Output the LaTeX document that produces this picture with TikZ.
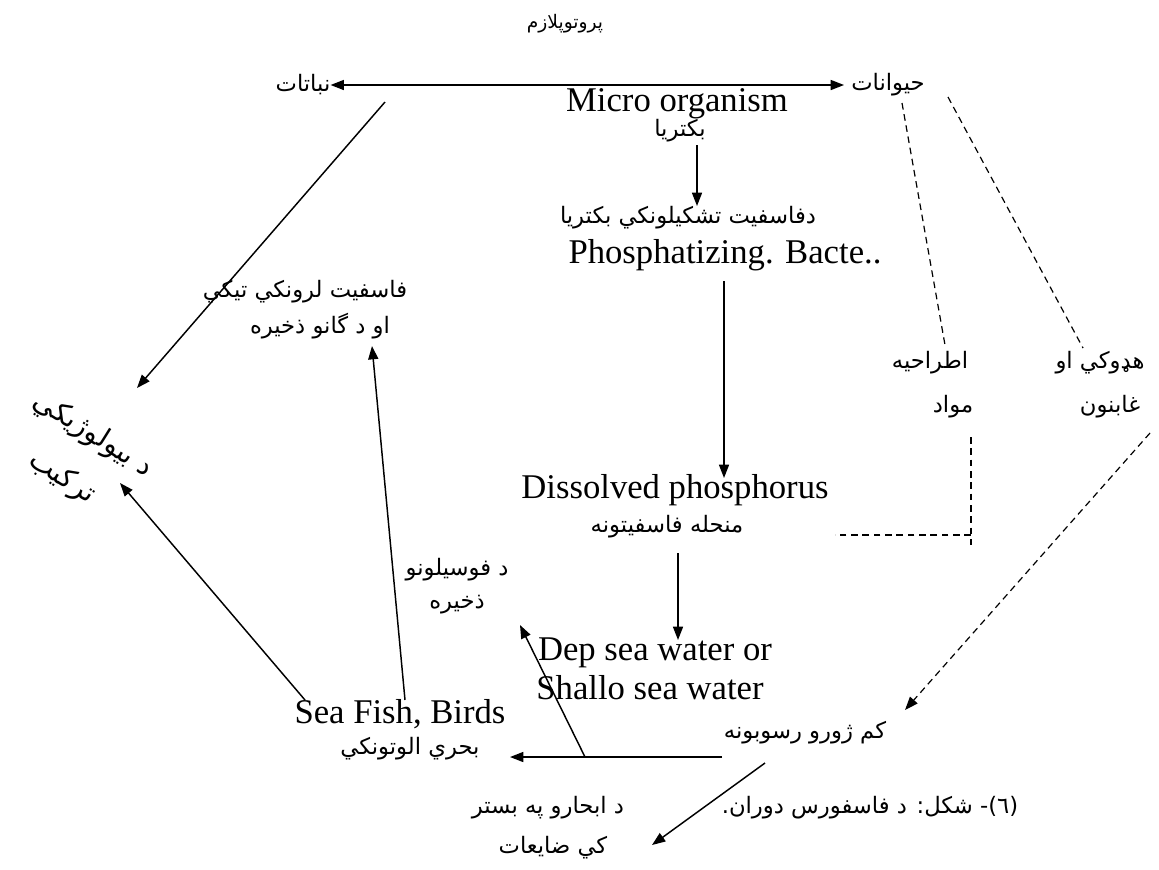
\documentclass[tikz,border=0pt]{standalone}
\usepackage{fontspec}
\setmainfont{Liberation Serif}
\newfontfamily\ar[Script=Arabic]{DejaVu Sans}
\TeXXeTstate=1
\newcommand\RL[1]{\beginR #1\endR}
\usetikzlibrary{arrows.meta}
\begin{document}
\begin{tikzpicture}[x=0.75pt,y=-0.75pt,
  en/.style={font=\fontsize{26}{30}\selectfont, inner sep=0pt},
  arl/.style={font=\ar\fontsize{17}{22}\selectfont, inner sep=0pt},
  conn/.style={line width=1.1pt, -{Triangle[length=10pt,width=7.5pt]}},
  dconn/.style={line width=1.1pt, {Triangle[length=10pt,width=7.5pt]}-{Triangle[length=10pt,width=7.5pt]}},
  dsh/.style={line width=0.9pt, dash pattern=on 5pt off 3.5pt},
  dsharr/.style={dsh, -{Triangle[length=10pt,width=7.5pt]}}]
\useasboundingbox (0,0) rectangle (1159,869);

% nodes
\node[font=\ar\fontsize{14}{16}\selectfont, inner sep=0pt] (title) at (565,24) {\RL{پروتوپلازم}};
\node[arl] (plants) at (303,85) {\RL{نباتات}};
\node[arl] (animals) at (888,85) {\RL{حيوانات}};
\node[en] (micro) at (677,104) {Micro organism};
\node[arl] (bact) at (680,131) {\RL{بكتريا}};
\node[arl] (psa) at (688,218) {\RL{دفاسفيت تشكيلونكي بكتريا}};
\node[en] (psb) at (725,255) {Phosphatizing. Bacte..};
\node[arl] (store1) at (305,292) {\RL{فاسفيت لرونكي تيكي}};
\node[arl] (store2) at (320,326) {\RL{او د گانو ذخيره}};
\node[arl] (excr1) at (930,363) {\RL{اطراحيه}};
\node[arl] (excr2) at (953,407) {\RL{مواد}};
\node[arl] (bone1) at (1100,363) {\RL{هډوكي او}};
\node[arl] (bone2) at (1110,407) {\RL{غابنون}};
\node[en] (diss) at (675,490) {Dissolved phosphorus};
\node[arl] (mnh) at (667,527) {\RL{منحله فاسفيتونه}};
\node[arl] (fos1) at (457,570) {\RL{د فوسيلونو}};
\node[arl] (fos2) at (457,605) {\RL{ذخيره}};
\node[en] (dep1) at (655,653) {Dep sea water or};
\node[en] (dep2) at (650,688) {Shallo sea water};
\node[arl] (sed) at (805,733) {\RL{كم ژورو رسوبونه}};
\node[en] (fish1) at (400,714) {Sea Fish, Birds};
\node[arl] (fish2) at (410,749) {\RL{بحري الوتونكي}};
\node[arl] (loss1) at (548,808) {\RL{د ابحارو په بستر}};
\node[arl] (loss2) at (553,848) {\RL{كي ضايعات}};
\node[arl] (cap) at (870,808) {\RL{(٦)- شكل: د فاسفورس دوران.}};
\node[font=\ar\fontsize{21}{24}\selectfont, inner sep=0pt, rotate=-32] (rot1) at (93,435) {\RL{د بيولوژيکي}};
\node[font=\ar\fontsize{21}{24}\selectfont, inner sep=0pt, rotate=-32] (rot2) at (62,478) {\RL{ترکیب}};

% helper coordinates
\coordinate (hx) at (585,757);
\coordinate (dj) at (971,535);

% connectors
\draw[dconn] (plants.east) -- ([shift={(-7,0)}]animals.west);
\draw[conn] ([shift={(82,17)}]plants.center) -- ([shift={(44,-47)}]rot1.center);
\draw[conn] ([shift={(17,14)}]bact.center) -- ([shift={(9,-12)}]psa.center);
\draw[conn] ([shift={(-1,26)}]psb.center) -- ([shift={(49,-12)}]diss.center);
\draw[conn] ([shift={(11,26)}]mnh.center) -- ([shift={(23,-13)}]dep1.center);
\draw[conn] ([shift={(-83,24)}]sed.center) -- ([shift={(100,8)}]fish2.center);
\draw[conn] (hx) -- ([shift={(63,20)}]fos2.center);
\draw[conn] ([shift={(-40,30)}]sed.center) -- ([shift={(99,-3)}]loss2.center);
\draw[conn] ([shift={(-95,-14)}]fish1.center) -- ([shift={(58,5)}]rot2.center);
\draw[conn] ([shift={(5,-14)}]fish1.center) -- ([shift={(52,20)}]store2.center);

\draw[dsh] ([shift={(14,18)}]animals.center) -- ([shift={(15,-18)}]excr1.center);
\draw[dsh] ([shift={(60,12)}]animals.center) -- ([shift={(-17,-15)}]bone1.center);
\draw[dsh] ([shift={(18,30)}]excr2.center) -- ([shift={(0,10)}]dj);
\draw[dsh] (dj) -- ([shift={(-136,0)}]dj);
\draw[dsharr] ([shift={(40,26)}]bone2.center) -- ([shift={(100,-23)}]sed.center);
\end{tikzpicture}
\end{document}
